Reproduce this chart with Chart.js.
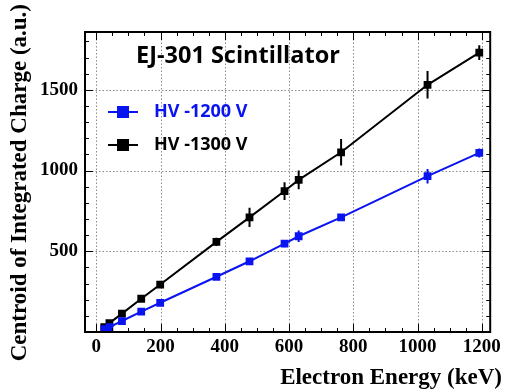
<!DOCTYPE html>
<html>
<head>
<meta charset="utf-8">
<script src="https://cdn.jsdelivr.net/npm/chart.js@4/dist/chart.umd.min.js"></script>
<style>
  html, body { margin: 0; padding: 0; background: #fff; }
  canvas { display: block; }
</style>
</head>
<body>
<canvas id="chart" width="505" height="392"></canvas>
<script>
// values
const energy = [25, 41, 80, 140, 199, 374, 477, 586, 630, 762, 1031, 1192];
const energyErr = [10, 10, 10, 10, 10, 10, 10, 10, 10, 10, 10, 10];
const hv1300 = [30, 55, 114, 206, 294, 558, 710, 873, 942, 1113, 1531, 1730];
const hv1300Err = [10, 10, 14, 12, 12, 25, 60, 55, 58, 82, 85, 46];
const hv1200 = [17, 30, 68, 126, 181, 342, 438, 547, 593, 710, 965, 1109];
const hv1200Err = [8, 8, 10, 10, 10, 12, 15, 22, 35, 15, 45, 28];
const xTicks = [0, 200, 400, 600, 800, 1000, 1200];
const yTicks = [500, 1000, 1500];

const BLUE = '#0a14f0';
const SERIF = '"Liberation Serif", "DejaVu Serif", serif';
const SANS = '"Open Sans", "Noto Sans", sans-serif';

function points(ys, yerr) {
    return energy.map((x, i) => ({ x: x, y: ys[i], xe: energyErr[i], ye: yerr[i] }));
}

// grid, frame, ticks on all sides, error bars, legend and titles
const decorations = {
    id: 'decorations',
    beforeDatasetsDraw(chart) {
        const ctx = chart.ctx;
        const a = chart.chartArea;
        const xs = chart.scales.x, ys = chart.scales.y;
        ctx.save();
        ctx.strokeStyle = '#8a8a8a';
        ctx.lineWidth = 1;
        ctx.setLineDash([1.5, 2]);
        xTicks.forEach(v => {
            const px = Math.round(xs.getPixelForValue(v)) + 0.5;
            ctx.beginPath(); ctx.moveTo(px, a.top); ctx.lineTo(px, a.bottom); ctx.stroke();
        });
        yTicks.forEach(v => {
            const py = Math.round(ys.getPixelForValue(v)) + 0.5;
            ctx.beginPath(); ctx.moveTo(a.left, py); ctx.lineTo(a.right, py); ctx.stroke();
        });
        ctx.setLineDash([]);

        // error bars
        chart.data.datasets.forEach(ds => {
            ctx.strokeStyle = ds.borderColor;
            ctx.lineWidth = 2;
            ds.data.forEach(p => {
                const px = xs.getPixelForValue(p.x), py = ys.getPixelForValue(p.y);
                ctx.beginPath();
                ctx.moveTo(px, ys.getPixelForValue(p.y - p.ye));
                ctx.lineTo(px, ys.getPixelForValue(p.y + p.ye));
                ctx.moveTo(xs.getPixelForValue(p.x - p.xe), py);
                ctx.lineTo(xs.getPixelForValue(p.x + p.xe), py);
                ctx.stroke();
            });
        });
        ctx.restore();
    },
    afterDraw(chart) {
        const ctx = chart.ctx;
        const a = chart.chartArea;
        const xs = chart.scales.x, ys = chart.scales.y;
        ctx.save();
        ctx.strokeStyle = '#000';

        // ticks
        ctx.lineWidth = 1;
        ctx.beginPath();
        for (let v = 0; v <= 1200; v += 50) {
            const px = Math.round(xs.getPixelForValue(v)) + 0.5;
            const len = v % 200 === 0 ? 8 : 4;
            ctx.moveTo(px, a.bottom); ctx.lineTo(px, a.bottom - len);
            ctx.moveTo(px, a.top); ctx.lineTo(px, a.top + len);
        }
        for (let v = 100; v <= 1800; v += 100) {
            const py = Math.round(ys.getPixelForValue(v)) + 0.5;
            const len = v % 500 === 0 ? 8 : 4;
            ctx.moveTo(a.left, py); ctx.lineTo(a.left + len, py);
            ctx.moveTo(a.right, py); ctx.lineTo(a.right - len, py);
        }
        ctx.stroke();

        // frame
        ctx.lineWidth = 2;
        ctx.strokeRect(a.left, a.top, a.right - a.left, a.bottom - a.top);

        // plot label
        ctx.fillStyle = '#000';
        ctx.font = 'bold 23.5px ' + SANS;
        ctx.textBaseline = 'alphabetic';
        ctx.textAlign = 'left';
        ctx.fillText('EJ-301 Scintillator', 136, 63);

        // legend
        const entries = [
            { label: 'HV -1200 V', color: BLUE, y: 112 },
            { label: 'HV -1300 V', color: '#000', y: 145 }
        ];
        entries.forEach(e => {
            ctx.strokeStyle = e.color;
            ctx.fillStyle = e.color;
            ctx.lineWidth = 2;
            ctx.beginPath();
            ctx.moveTo(108, e.y); ctx.lineTo(138, e.y);
            ctx.stroke();
            ctx.fillRect(117, e.y - 6, 12, 12);
            ctx.font = 'bold 18px ' + SANS;
            ctx.textBaseline = 'middle';
            ctx.fillText(e.label, 154, e.y);
        });

        // axis titles
        ctx.fillStyle = '#000';
        ctx.font = 'bold 23px ' + SERIF;
        ctx.textBaseline = 'middle';
        ctx.textAlign = 'right';
        ctx.fillText('Electron Energy (keV)', 502, 378);

        ctx.translate(20, 4);
        ctx.rotate(-Math.PI / 2);
        ctx.textAlign = 'right';
        ctx.fillText('Centroid of Integrated Charge (a.u.)', 0, 0);
        ctx.restore();
    }
};

new Chart(document.getElementById('chart'), {
    type: 'scatter',
    data: {
        datasets: [{
            label: 'HV -1200 V',
            data: points(hv1200, hv1200Err),
            borderColor: BLUE,
            backgroundColor: BLUE,
            showLine: true,
            borderWidth: 2,
            pointStyle: 'rect',
            pointRadius: 5.5,
            pointBorderWidth: 0
        }, {
            label: 'HV -1300 V',
            data: points(hv1300, hv1300Err),
            borderColor: '#000',
            backgroundColor: '#000',
            showLine: true,
            borderWidth: 2,
            pointStyle: 'rect',
            pointRadius: 5.5,
            pointBorderWidth: 0
        }]
    },
    options: {
        responsive: false,
        animation: false,
        layout: { padding: { top: 32, right: 8, left: 0, bottom: 0 } },
        plugins: {
            legend: { display: false },
            tooltip: { enabled: false }
        },
        scales: {
            x: {
                type: 'linear',
                min: -35,
                max: 1226,
                grid: { display: false, drawTicks: false },
                border: { display: false },
                afterFit: function(scale) { scale.height = 60; },
                afterBuildTicks: function(scale) { scale.ticks = xTicks.map(v => ({ value: v })); },
                ticks: {
                    padding: 4,
                    maxRotation: 0,
                    autoSkip: false,
                    color: '#000',
                    font: { family: SERIF, size: 19, weight: 'bold' },
                    callback: v => String(v)
                }
            },
            y: {
                type: 'linear',
                min: 0,
                max: 1858,
                grid: { display: false, drawTicks: false },
                border: { display: false },
                afterFit: function(scale) { scale.width = 85; },
                afterBuildTicks: function(scale) { scale.ticks = yTicks.map(v => ({ value: v })); },
                ticks: {
                    padding: 7,
                    autoSkip: false,
                    color: '#000',
                    font: { family: SERIF, size: 19, weight: 'bold' },
                    callback: v => String(v)
                }
            }
        }
    },
    plugins: [decorations]
});
</script>
</body>
</html>
